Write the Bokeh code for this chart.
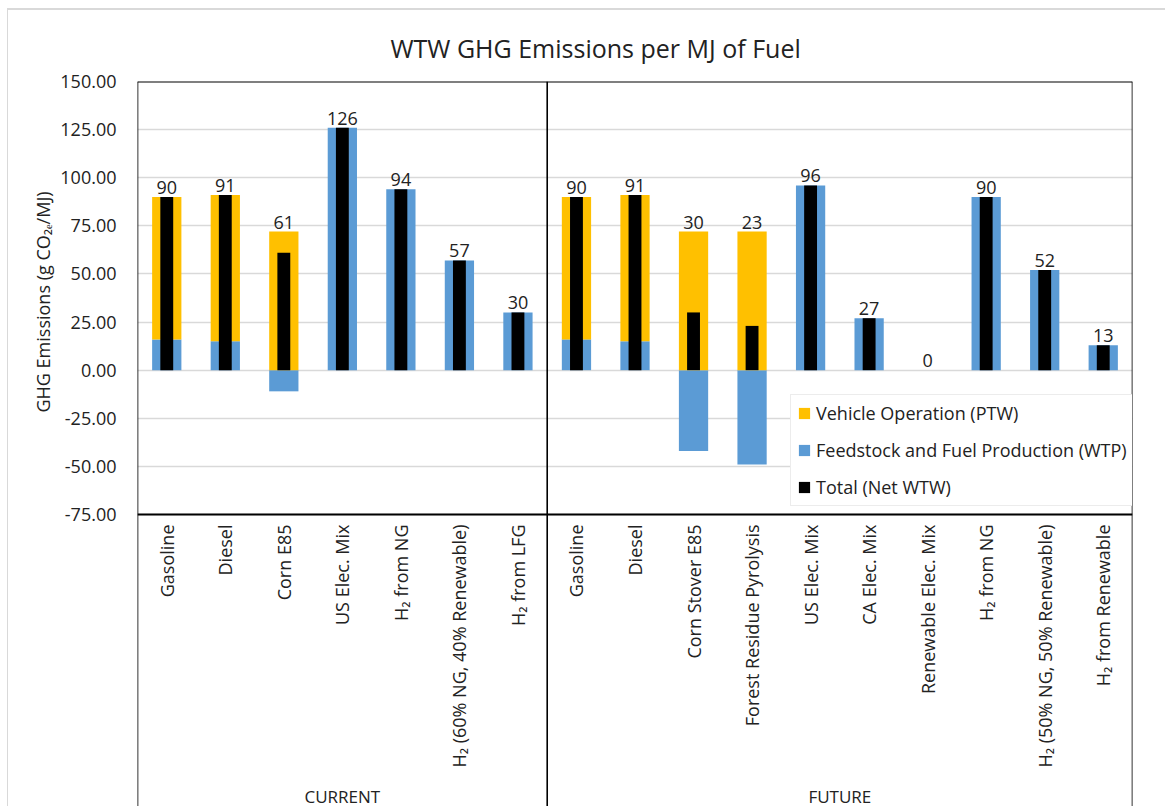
import math
from bokeh.plotting import figure
from bokeh.models import (ColumnDataSource, FixedTicker, NumeralTickFormatter,
                          Legend, LegendItem, Range1d, Title)
from bokeh.core.properties import value
from bokeh.embed import file_html
from bokeh.resources import INLINE

# ---------------- data ----------------
cats_current = ["Gasoline", "Diesel", "Corn E85", "US Elec. Mix", "H\u2082 from NG",
                "H\u2082 (60% NG, 40% Renewable)", "H\u2082 from LFG"]
cats_future = ["Gasoline", "Diesel", "Corn Stover E85", "Forest Residue Pyrolysis",
               "US Elec. Mix", "CA Elec. Mix", "Renewable Elec. Mix", "H\u2082 from NG",
               "H\u2082 (50% NG, 50% Renewable)", "H\u2082 from Renewable"]
ptw_current = [74, 76, 72, 0, 0, 0, 0]
wtp_current = [16, 15, -11, 126, 94, 57, 30]
total_current = [90, 91, 61, 126, 94, 57, 30]
ptw_future = [74, 76, 72, 72, 0, 0, 0, 0, 0, 0]
wtp_future = [16, 15, -42, -49, 96, 27, 0, 90, 52, 13]
total_future = [90, 91, 30, 23, 96, 27, 0, 90, 52, 13]
groups = ["CURRENT", "FUTURE"]
y_ticks = [-75, -50, -25, 0, 25, 50, 75, 100, 125, 150]

series_names = ["Vehicle Operation (PTW)", "Feedstock and Fuel Production (WTP)",
                "Total (Net WTW)"]
title_text = "WTW GHG Emissions per MJ of Fuel"
y_title = "GHG Emissions (g CO\u2082\u2091/MJ)"

# ---------------- derived table ----------------
cats = cats_current + cats_future
ptw = ptw_current + ptw_future
wtp = wtp_current + wtp_future
total = total_current + total_future
n_cur = len(cats_current)
n = len(cats)
xs = [i + 0.5 for i in range(n)]
wtp_bottom = [min(0, v) for v in wtp]
wtp_top = [max(0, v) for v in wtp]
ptw_top = [b + v for b, v in zip(wtp_top, ptw)]
label_y = [max(a, b, 0) for a, b in zip(ptw_top, total)]

src = ColumnDataSource(dict(x=xs, cat=cats, wtp_bottom=wtp_bottom, wtp_top=wtp_top,
                            ptw_top=ptw_top, total=total, label_y=label_y,
                            label=[str(t) for t in total]))

y_axis_min, y_axis_max = min(y_ticks), max(y_ticks)
px_per_unit = 433 / (y_axis_max - y_axis_min)
y_lo = y_axis_min - 294 / px_per_unit

FONT = "Open Sans"
TXT = "#222222"

p = figure(width=1158, height=798, x_range=Range1d(0, n), y_range=Range1d(y_lo, y_axis_max),
           x_axis_type=None, output_backend="svg", toolbar_location=None,
           min_border_left=129, min_border_right=34, min_border_top=71, min_border_bottom=0)
p.outline_line_color = None
p.styles = {"margin-left": "7px", "margin-top": "8px",
            "border-left": "1px solid #D9D9D9", "border-top": "2px solid #D9D9D9"}

# title
p.title.text = title_text
p.title.align = "left"
p.title.offset = 253
p.title.standoff = 34
p.title.text_font = FONT
p.title.text_font_size = "25px"
p.title.text_font_style = "normal"
p.title.text_color = TXT

# y axis
p.yaxis.ticker = FixedTicker(ticks=y_ticks)
p.yaxis.formatter = NumeralTickFormatter(format="0.00")
p.yaxis.axis_line_color = None
p.yaxis.major_tick_line_color = None
p.yaxis.minor_tick_line_color = None
p.yaxis.major_label_text_font = FONT
p.yaxis.major_label_text_font_size = "18px"
p.yaxis.major_label_text_color = TXT
p.yaxis.major_label_standoff = 15
p.ygrid.grid_line_color = "#D9D9D9"
p.ygrid.grid_line_width = 1.5

# y axis title, placed along the -75..150 part of the left side
p.add_layout(Title(text=y_title, align="left", offset=396, standoff=6,
                   text_font=FONT, text_font_size="18px", text_font_style="normal",
                   text_color=TXT), "left")

# bars
r_wtp = p.vbar(x="x", bottom="wtp_bottom", top="wtp_top", width=0.5, source=src,
               fill_color="#5B9BD5", line_color=None)
r_ptw = p.vbar(x="x", bottom="wtp_top", top="ptw_top", width=0.5, source=src,
               fill_color="#FFC000", line_color=None)
r_tot = p.vbar(x="x", bottom=0, top="total", width=0.22, source=src,
               fill_color="#000000", line_color=None)

# frame lines
p.segment(x0=[0], y0=[y_axis_max], x1=[n], y1=[y_axis_max], line_color="black", line_width=2)
p.segment(x0=[0], y0=[y_axis_min], x1=[n], y1=[y_axis_min], line_color="black", line_width=2)
p.segment(x0=[0, n_cur, n], y0=[y_axis_max] * 3, x1=[0, n_cur, n], y1=[y_lo] * 3,
          line_color="black", line_width=1.6)

# data labels
p.text(x="x", y="label_y", text="label", source=src, text_align="center",
       text_baseline="bottom", y_offset=-3, text_font=value(FONT),
       text_font_size="18px", text_color=TXT)

# category labels
p.text(x="x", y=y_axis_min, text="cat", source=src, angle=math.pi / 2,
       text_align="right", text_baseline="middle", y_offset=10,
       text_font=value(FONT), text_font_size="18px", text_color=TXT)

# group labels
p.text(x=[n_cur / 2, n_cur + (n - n_cur) / 2], y=[y_lo, y_lo], text=groups,
       text_align="center", text_baseline="bottom", y_offset=-1,
       text_font=value(FONT), text_font_size="17px", text_color=TXT)

legend = Legend(items=[LegendItem(label=series_names[0], renderers=[r_ptw]),
                       LegendItem(label=series_names[1], renderers=[r_wtp]),
                       LegendItem(label=series_names[2], renderers=[r_tot])],
                location=(653, 302), glyph_width=14, glyph_height=14, label_height=20,
                spacing=13, padding=6, margin=0, label_standoff=5,
                label_text_font=FONT, label_text_font_size="18px", label_text_color=TXT,
                border_line_color="#D9D9D9", border_line_width=1.5,
                background_fill_color="white", background_fill_alpha=1)
p.add_layout(legend)

open("out.html", "w").write(file_html(p, INLINE))
